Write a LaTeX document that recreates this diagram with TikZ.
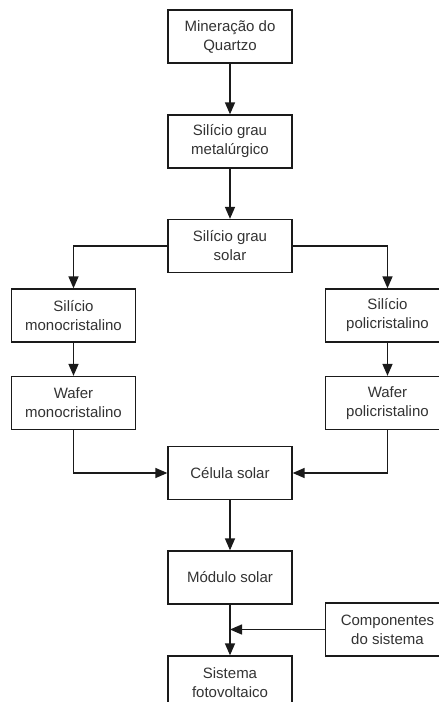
\documentclass[tikz,border=0pt]{standalone}
\usepackage{fontspec}
\setmainfont{Liberation Sans}
\usetikzlibrary{arrows.meta}
\definecolor{txt}{HTML}{333333}
\definecolor{ln}{HTML}{1A1A1A}
\begin{document}
\begin{tikzpicture}[x=1pt,y=-1pt,
  box/.style={draw=ln, line width=1.3pt, minimum width=124pt, minimum height=53pt, inner sep=0pt,
    align=center, text=txt, font=\fontsize{15}{19}\selectfont},
  conn/.style={draw=ln, line width=1.5pt, -{Triangle[width=10pt,length=12pt]}}]
\useasboundingbox (0,0) rectangle (439,702);
\clip (0,0) rectangle (439,702);
\fill[white] (0,0) rectangle (439,702);
\node[box] (b1) at (230,36.5) {Mineração do\\Quartzo};
\node[box] (b2) at (230,141.5) {Silício grau\\metalúrgico};
\node[box] (b3) at (230,246) {Silício grau\\solar};
\node[box] (mono) at (73.5,315.5) {Silício\\monocristalino};
\node[box] (poli) at (387.5,315.5) {Silício\\policristalino};
\node[box] (wmono) at (73.5,403) {Wafer\\monocristalino};
\node[box] (wpoli) at (387.5,403) {Wafer\\policristalino};
\node[box] (cel) at (230,473) {Célula solar};
\node[box] (mod) at (230,577.5) {Módulo solar};
\node[box] (comp) at (387.5,629.5) {Componentes\\do sistema};
\node[box] (sis) at (230,682.5) {Sistema\\fotovoltaico};
\coordinate (j) at (mod.south |- comp.west);
\draw[conn] (b1) -- (b2);
\draw[conn] (b2) -- (b3);
\draw[conn] (b3.west) -| (mono.north);
\draw[conn] (b3.east) -| (poli.north);
\draw[conn] (mono) -- (wmono);
\draw[conn] (poli) -- (wpoli);
\draw[conn] (wmono.south) |- (cel.west);
\draw[conn] (wpoli.south) |- (cel.east);
\draw[conn] (cel) -- (mod);
\draw[conn] (mod) -- (sis);
\draw[conn] (comp.west) -- (j);
\end{tikzpicture}
\end{document}
